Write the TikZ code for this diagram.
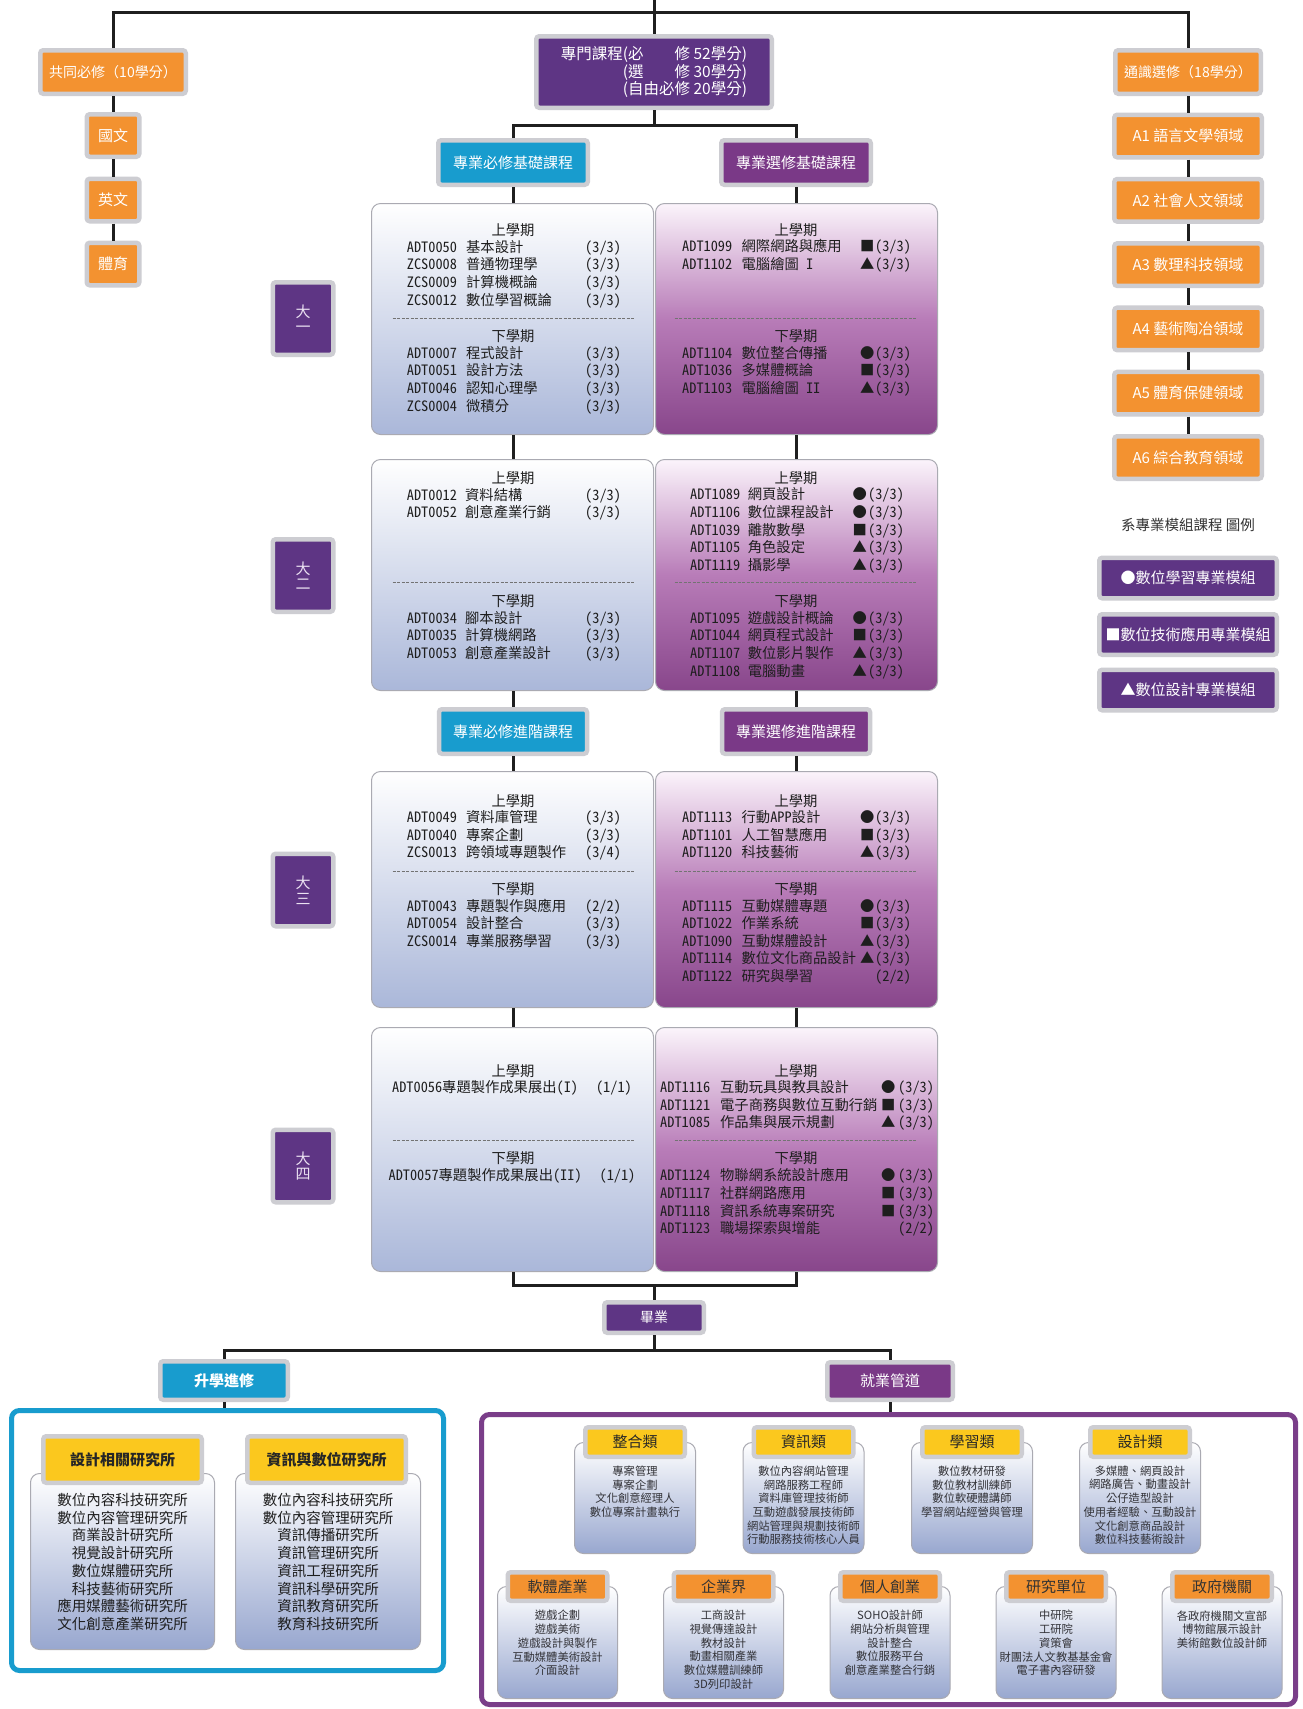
\documentclass[tikz,border=0pt]{standalone}
\usepackage{fontspec}
\setmainfont{Noto Sans CJK TC}
\newfontfamily\crsf[RawFeature=+hwid]{Noto Sans CJK TC}
\definecolor{myorange}{RGB}{243,146,48}
\definecolor{myyellow}{RGB}{251,200,30}
\definecolor{dpurple}{RGB}{94,53,132}
\definecolor{mpurple}{RGB}{122,57,135}
\definecolor{myblue}{RGB}{24,156,206}
\definecolor{fpurple}{RGB}{122,62,137}
\definecolor{framegray}{RGB}{205,205,210}
\definecolor{boxgray}{RGB}{170,170,178}
\definecolor{lbot}{RGB}{170,183,217}
\definecolor{rtop}{RGB}{251,244,251}
\definecolor{rmid}{RGB}{184,124,184}
\definecolor{rbot}{RGB}{136,70,139}
\definecolor{jbot}{RGB}{152,167,207}
\definecolor{crstext}{RGB}{30,30,30}
\definecolor{jobtext}{RGB}{50,50,55}
\definecolor{yeartext}{RGB}{235,225,242}
\newlength\crsCW \newlength\crsNW \newlength\crsSW
\newcommand\crsfont{\crsf\fontsize{14.3pt}{17.6pt}\selectfont}
\newcommand\crsrow[3]{\makebox[\crsCW][l]{#1}\makebox[\crsNW][l]{#2}#3}
\newcommand\symcr[2]{\makebox[\crsSW][l]{#1}#2}
\tikzset{
  conn/.style={line width=3pt, draw=black!88},
  sz/.style 2 args={minimum width=#1, minimum height=#2},
  hb/.style={draw=framegray, line width=4.5pt, rounded corners=3pt, inner sep=0pt, text=white},
  ob/.style={hb, fill=myorange},
  pb/.style={hb, fill=dpurple},
  mb/.style={hb, fill=mpurple},
  bb/.style={hb, fill=myblue},
  yb/.style={hb, fill=myyellow, text=black!85},
  jo/.style={hb, fill=myorange, text=black!80},
  ylb/.style={draw=boxgray, line width=1pt, rounded corners=9pt, inner sep=0pt, top color=white, bottom color=lbot},
  yrb/.style={draw=boxgray, line width=1pt, rounded corners=9pt, inner sep=0pt, top color=rtop, bottom color=rbot, middle color=rmid},
  jbody/.style={draw=boxgray, line width=1pt, rounded corners=9pt, inner sep=0pt, top color=white, bottom color=jbot},
  sem/.style={font=\crsfont, inner sep=0pt, text=crstext},
  crs/.style n args={3}{font=\crsfont, align=left, inner sep=0pt, anchor=west, text=crstext,
      execute at begin node={\setlength\crsCW{#1}\setlength\crsNW{#2}\setlength\crsSW{#3}}},
  dsh/.style={draw=black!55, line width=0.8pt, dash pattern=on 3pt off 1.5pt},
  jtxt/.style={font=\fontsize{11.3pt}{13.7pt}\selectfont, align=center, inner sep=0pt, text=jobtext},
  rtxt/.style={font=\fontsize{14.5pt}{17.7pt}\selectfont, align=center, inner sep=0pt, text=crstext},
  yl/.style={pb, sz={60.5pt}{72.5pt}, align=center, text=yeartext, font=\fontsize{15pt}{15.5pt}\selectfont},
  ah/.style={ob, sz={147.5pt}{42.5pt}, font=\fontsize{15pt}{17pt}\selectfont},
  lg/.style={pb, sz={177.5pt}{40.5pt}, font=\fontsize{15pt}{17pt}\selectfont},
}
\begin{document}
\begin{tikzpicture}[x=1pt,y=-1pt]
\useasboundingbox[fill=white] (0,0) rectangle (1303,1709);

% ---------- top headers ----------
\node[pb, sz={235.5pt}{71.5pt}, align=left, font=\fontsize{15.5pt}{17.5pt}\selectfont] (prog) at (654,72)
 {專門課程(\makebox[4em][s]{必\hfill 修} 52學分)\\\phantom{專門課程}(\makebox[4em][s]{選\hfill 修} 30學分)\\\phantom{專門課程}(自由必修 20學分)};
\node[ob, sz={145.5pt}{43.5pt}, font=\fontsize{14pt}{16pt}\selectfont] (gen) at (113,72) {共同必修（10學分）};
\node[ob, sz={52.5pt}{42.5pt}, font=\fontsize{15pt}{17pt}\selectfont] (guo) at (113,135.5) {國文};
\node[ob, sz={52.5pt}{42.5pt}, font=\fontsize{15pt}{17pt}\selectfont] (ying) at (113,200) {英文};
\node[ob, sz={52.5pt}{42.5pt}, font=\fontsize{15pt}{17pt}\selectfont] (ti) at (113,264) {體育};
\node[ob, sz={145.5pt}{43.5pt}, font=\fontsize{14pt}{16pt}\selectfont] (ge) at (1188,72) {通識選修（18學分）};
\node[ah] (a1) at (1188,136) {A1 語言文學領域};
\node[ah] (a2) at (1188,200.3) {A2 社會人文領域};
\node[ah] (a3) at (1188,264.6) {A3 數理科技領域};
\node[ah] (a4) at (1188,328.9) {A4 藝術陶冶領域};
\node[ah] (a5) at (1188,393.2) {A5 體育保健領域};
\node[ah] (a6) at (1188,457.5) {A6 綜合教育領域};

\node[font=\fontsize{14.5pt}{16pt}\selectfont, text=black!80, inner sep=0pt] (lgt) at (1188,525) {系專業模組課程 圖例};
\node[lg] (lg1) at (1188,578) {●數位學習專業模組};
\node[lg] (lg2) at (1188,634.5) {■數位技術應用專業模組};
\node[lg] (lg3) at (1188,690) {▲數位設計專業模組};

\node[bb, sz={149.5pt}{44.5pt}, font=\fontsize{15pt}{17pt}\selectfont] (reqb) at (513,162.5) {專業必修基礎課程};
\node[mb, sz={149.5pt}{44.5pt}, font=\fontsize{15pt}{17pt}\selectfont] (eleb) at (796,162.5) {專業選修基礎課程};
\node[bb, sz={148pt}{44.5pt}, font=\fontsize{15pt}{17pt}\selectfont] (reqa) at (513,731.5) {專業必修進階課程};
\node[mb, sz={148pt}{44.5pt}, font=\fontsize{15pt}{17pt}\selectfont] (elea) at (796,731.5) {專業選修進階課程};

% ---------- year labels ----------
\node[yl] (yr1) at (303,318.5) {大\\一};
\node[yl] (yr2) at (303,575.5) {大\\二};
\node[yl] (yr3) at (303,890) {大\\三};
\node[yl] (yr4) at (303,1166) {大\\四};

% ---------- year boxes ----------
\node[ylb, sz={282pt}{231pt}] (y1l) at (512.5,319) {};
\node[yrb, sz={282pt}{231pt}] (y1r) at (796.5,319) {};
\node[ylb, sz={282pt}{231pt}] (y2l) at (512.5,575) {};
\node[yrb, sz={282pt}{231pt}] (y2r) at (796.5,575) {};
\node[ylb, sz={282pt}{236pt}] (y3l) at (512.5,889.5) {};
\node[yrb, sz={282pt}{236pt}] (y3r) at (796.5,889.5) {};
\node[ylb, sz={282pt}{244pt}] (y4l) at (512.5,1149.5) {};
\node[yrb, sz={282pt}{244pt}] (y4r) at (796.5,1149.5) {};

% year 1
\node[sem] (y1lt1) at (513,230) {上學期};
\node[crs={59.3pt}{119pt}{0pt}] (y1lc1) at (406.7,274)
 {\crsrow{ADT0050}{基本設計}{(3/3)}\\\crsrow{ZCS0008}{普通物理學}{(3/3)}\\\crsrow{ZCS0009}{計算機概論}{(3/3)}\\\crsrow{ZCS0012}{數位學習概論}{(3/3)}};
\draw[dsh] (392.5,318) -- (634,318);
\node[sem] (y1lt2) at (513,336) {下學期};
\node[crs={59.3pt}{119pt}{0pt}] (y1lc2) at (406.7,380)
 {\crsrow{ADT0007}{程式設計}{(3/3)}\\\crsrow{ADT0051}{設計方法}{(3/3)}\\\crsrow{ADT0046}{認知心理學}{(3/3)}\\\crsrow{ZCS0004}{微積分}{(3/3)}};
\node[sem] (y1rt1) at (796,230) {上學期};
\node[crs={59.5pt}{118.5pt}{15pt}] (y1rc1) at (682,256)
 {\crsrow{ADT1099}{網際網路與應用}{\symcr{■}{(3/3)}}\\\crsrow{ADT1102}{電腦繪圖 I}{\symcr{▲}{(3/3)}}};
\draw[dsh] (674.6,318) -- (917,318);
\node[sem] (y1rt2) at (796,336) {下學期};
\node[crs={59.5pt}{118.5pt}{15pt}] (y1rc2) at (682,371)
 {\crsrow{ADT1104}{數位整合傳播}{\symcr{●}{(3/3)}}\\\crsrow{ADT1036}{多媒體概論}{\symcr{■}{(3/3)}}\\\crsrow{ADT1103}{電腦繪圖 II}{\symcr{▲}{(3/3)}}};

% year 2
\node[sem] (y2lt1) at (513,478) {上學期};
\node[crs={58.3pt}{120pt}{0pt}] (y2lc1) at (406.7,504.2)
 {\crsrow{ADT0012}{資料結構}{(3/3)}\\\crsrow{ADT0052}{創意產業行銷}{(3/3)}};
\draw[dsh] (392.5,582.7) -- (634,582.7);
\node[sem] (y2lt2) at (513,601) {下學期};
\node[crs={58.3pt}{120pt}{0pt}] (y2lc2) at (406.7,636)
 {\crsrow{ADT0034}{腳本設計}{(3/3)}\\\crsrow{ADT0035}{計算機網路}{(3/3)}\\\crsrow{ADT0053}{創意產業設計}{(3/3)}};
\node[sem] (y2rt1) at (796,478) {上學期};
\node[crs={57.7pt}{104.8pt}{15.5pt}] (y2rc1) at (690,530.4)
 {\crsrow{ADT1089}{網頁設計}{\symcr{●}{(3/3)}}\\\crsrow{ADT1106}{數位課程設計}{\symcr{●}{(3/3)}}\\\crsrow{ADT1039}{離散數學}{\symcr{■}{(3/3)}}\\\crsrow{ADT1105}{角色設定}{\symcr{▲}{(3/3)}}\\\crsrow{ADT1119}{攝影學}{\symcr{▲}{(3/3)}}};
\draw[dsh] (674.6,582.7) -- (917,582.7);
\node[sem] (y2rt2) at (796,601) {下學期};
\node[crs={57.7pt}{104.8pt}{15.5pt}] (y2rc2) at (690,645)
 {\crsrow{ADT1095}{遊戲設計概論}{\symcr{●}{(3/3)}}\\\crsrow{ADT1044}{網頁程式設計}{\symcr{■}{(3/3)}}\\\crsrow{ADT1107}{數位影片製作}{\symcr{▲}{(3/3)}}\\\crsrow{ADT1108}{電腦動畫}{\symcr{▲}{(3/3)}}};

% year 3
\node[sem] (y3lt1) at (513,800.7) {上學期};
\node[crs={59.3pt}{119pt}{0pt}] (y3lc1) at (406.7,835.7)
 {\crsrow{ADT0049}{資料庫管理}{(3/3)}\\\crsrow{ADT0040}{專案企劃}{(3/3)}\\\crsrow{ZCS0013}{跨領域專題製作}{(3/4)}};
\draw[dsh] (392.5,871.7) -- (634,871.7);
\node[sem] (y3lt2) at (513,889) {下學期};
\node[crs={59.3pt}{119pt}{0pt}] (y3lc2) at (406.7,924)
 {\crsrow{ADT0043}{專題製作與應用}{(2/2)}\\\crsrow{ADT0054}{設計整合}{(3/3)}\\\crsrow{ZCS0014}{專業服務學習}{(3/3)}};
\node[sem] (y3rt1) at (796,800.7) {上學期};
\node[crs={59.5pt}{118.5pt}{15pt}] (y3rc1) at (682,835.7)
 {\crsrow{ADT1113}{行動APP設計}{\symcr{●}{(3/3)}}\\\crsrow{ADT1101}{人工智慧應用}{\symcr{■}{(3/3)}}\\\crsrow{ADT1120}{科技藝術}{\symcr{▲}{(3/3)}}};
\draw[dsh] (674.6,871.7) -- (917,871.7);
\node[sem] (y3rt2) at (796,889) {下學期};
\node[crs={59.5pt}{118.5pt}{15pt}] (y3rc2) at (682,941.7)
 {\crsrow{ADT1115}{互動媒體專題}{\symcr{●}{(3/3)}}\\\crsrow{ADT1022}{作業系統}{\symcr{■}{(3/3)}}\\\crsrow{ADT1090}{互動媒體設計}{\symcr{▲}{(3/3)}}\\\crsrow{ADT1114}{數位文化商品設計}{\symcr{▲}{(3/3)}}\\\crsrow{ADT1122}{研究與學習}{\symcr{}{(2/2)}}};

% year 4
\node[sem] (y4lt1) at (513,1070.7) {上學期};
\node[sem] (y4lc1) at (512,1088) {ADT0056專題製作成果展出(I)\hspace{18pt}(1/1)};
\draw[dsh] (392.5,1140) -- (634,1140);
\node[sem] (y4lt2) at (513,1158) {下學期};
\node[sem] (y4lc2) at (512,1176) {ADT0057專題製作成果展出(II)\hspace{18pt}(1/1)};
\node[sem] (y4rt1) at (796,1070.7) {上學期};
\node[crs={60pt}{161pt}{17pt}] (y4rc1) at (660,1105.5)
 {\crsrow{ADT1116}{互動玩具與教具設計}{\symcr{●}{(3/3)}}\\\crsrow{ADT1121}{電子商務與數位互動行銷}{\symcr{■}{(3/3)}}\\\crsrow{ADT1085}{作品集與展示規劃}{\symcr{▲}{(3/3)}}};
\draw[dsh] (674.6,1140) -- (917,1140);
\node[sem] (y4rt2) at (796,1158) {下學期};
\node[crs={60pt}{161pt}{17pt}] (y4rc2) at (660,1202.5)
 {\crsrow{ADT1124}{物聯網系統設計應用}{\symcr{●}{(3/3)}}\\\crsrow{ADT1117}{社群網路應用}{\symcr{■}{(3/3)}}\\\crsrow{ADT1118}{資訊系統專案研究}{\symcr{■}{(3/3)}}\\\crsrow{ADT1123}{職場探索與增能}{\symcr{}{(2/2)}}};

% ---------- graduation ----------
\node[pb, sz={99.5pt}{30.5pt}, font=\fontsize{14pt}{16pt}\selectfont] (grad) at (654,1317.5) {畢業};
\node[bb, sz={127.5pt}{38.5pt}, font=\bfseries\fontsize{15pt}{17pt}\selectfont] (study) at (224,1380.5) {升學進修};
\node[mb, sz={125.5pt}{37.5pt}, font=\fontsize{15pt}{17pt}\selectfont] (job) at (890,1381) {就業管道};

% frames
\node[draw=myblue, line width=5pt, rounded corners=8pt, inner sep=0pt, sz={432pt}{260pt}] (sframe) at (227.5,1540.5) {};
\node[draw=fpurple, line width=5pt, rounded corners=8pt, inner sep=0pt, sz={814pt}{290pt}] (jframe) at (888.5,1559.5) {};

% research institutes
\node[jbody, sz={184pt}{176pt}] (rb1) at (122.5,1561.5) {};
\node[jbody, sz={185pt}{176pt}] (rb2) at (328,1561.5) {};
\node[yb, sz={158.5pt}{46.5pt}, font=\bfseries\fontsize{15pt}{17pt}\selectfont] (rh1) at (122.5,1459.5) {設計相關研究所};
\node[yb, sz={158.5pt}{46.5pt}, font=\bfseries\fontsize{15pt}{17pt}\selectfont] (rh2) at (326.5,1459.5) {資訊與數位研究所};
\node[rtxt] (rt1) at (122.5,1562) {數位內容科技研究所\\數位內容管理研究所\\商業設計研究所\\視覺設計研究所\\數位媒體研究所\\科技藝術研究所\\應用媒體藝術研究所\\文化創意產業研究所};
\node[rtxt] (rt2) at (328,1562) {數位內容科技研究所\\數位內容管理研究所\\資訊傳播研究所\\資訊管理研究所\\資訊工程研究所\\資訊科學研究所\\資訊教育研究所\\教育科技研究所};

% job categories, top row
\node[jbody, sz={121pt}{111pt}] (jb1) at (635,1498) {};
\node[jbody, sz={121pt}{111pt}] (jb2) at (803.5,1498) {};
\node[jbody, sz={121pt}{111pt}] (jb3) at (972,1498) {};
\node[jbody, sz={121pt}{111pt}] (jb4) at (1140,1498) {};
\node[yb, sz={99.5pt}{29.5pt}, font=\fontsize{15pt}{17pt}\selectfont] (jh1) at (635,1442) {整合類};
\node[yb, sz={99.5pt}{29.5pt}, font=\fontsize{15pt}{17pt}\selectfont] (jh2) at (803.5,1442) {資訊類};
\node[yb, sz={99.5pt}{29.5pt}, font=\fontsize{15pt}{17pt}\selectfont] (jh3) at (972,1442) {學習類};
\node[yb, sz={99.5pt}{29.5pt}, font=\fontsize{15pt}{17pt}\selectfont] (jh4) at (1140,1442) {設計類};
\node[jtxt] (jt1) at (635,1491.6) {專案管理\\專案企劃\\文化創意經理人\\數位專案計畫執行};
\node[jtxt] (jt2) at (803.5,1505.3) {數位內容網站管理\\網路服務工程師\\資料庫管理技術師\\互動遊戲發展技術師\\網站管理與規劃技術師\\行動服務技術核心人員};
\node[jtxt] (jt3) at (972,1491.6) {數位教材研發\\數位教材訓練師\\數位軟硬體講師\\學習網站經營與管理};
\node[jtxt] (jt4) at (1140,1505.3) {多媒體、網頁設計\\網路廣告、動畫設計\\公仔造型設計\\使用者經驗、互動設計\\文化創意商品設計\\數位科技藝術設計};

% job categories, bottom row
\node[jbody, sz={120pt}{112pt}] (kb1) at (557.5,1642.5) {};
\node[jbody, sz={120pt}{112pt}] (kb2) at (723.5,1642.5) {};
\node[jbody, sz={120pt}{112pt}] (kb3) at (890,1642.5) {};
\node[jbody, sz={120pt}{112pt}] (kb4) at (1056,1642.5) {};
\node[jbody, sz={120pt}{112pt}] (kb5) at (1222,1642.5) {};
\node[jo, sz={99.5pt}{28.5pt}, font=\fontsize{15pt}{17pt}\selectfont] (kh1) at (557.5,1586.5) {軟體產業};
\node[jo, sz={99.5pt}{28.5pt}, font=\fontsize{15pt}{17pt}\selectfont] (kh2) at (723.5,1586.5) {企業界};
\node[jo, sz={99.5pt}{28.5pt}, font=\fontsize{15pt}{17pt}\selectfont] (kh3) at (890,1586.5) {個人創業};
\node[jo, sz={99.5pt}{28.5pt}, font=\fontsize{15pt}{17pt}\selectfont] (kh4) at (1056,1586.5) {研究單位};
\node[jo, sz={99.5pt}{28.5pt}, font=\fontsize{15pt}{17pt}\selectfont] (kh5) at (1222,1586.5) {政府機關};
\node[jtxt] (kt1) at (557.5,1643) {遊戲企劃\\遊戲美術\\遊戲設計與製作\\互動媒體美術設計\\介面設計};
\node[jtxt] (kt2) at (723.5,1649.7) {工商設計\\視覺傳達設計\\教材設計\\動畫相關產業\\數位媒體訓練師\\3D列印設計};
\node[jtxt] (kt3) at (890,1643) {SOHO設計師\\網站分析與管理\\設計整合\\數位服務平台\\創意產業整合行銷};
\node[jtxt] (kt4) at (1056,1643) {中研院\\工研院\\資策會\\財團法人文教基基金會\\電子書內容研發};
\node[jtxt] (kt5) at (1222,1629.5) {各政府機關文宣部\\博物館展示設計\\美術館數位設計師};

% ---------- connectors ----------
\coordinate (top0) at (654,0);
\coordinate (tj) at (654,12);
\coordinate (pj) at (654,125);
\coordinate (gj) at (654,1285);
\coordinate (gj2) at (654,1350);
\draw[conn] (top0) -- (prog.north);
\draw[conn] (gen.north) |- (tj) -| (ge.north);
\draw[conn] (gen.south) -- (guo.north);
\draw[conn] (guo.south) -- (ying.north);
\draw[conn] (ying.south) -- (ti.north);
\draw[conn] (ge.south) -- (a1.north);
\draw[conn] (a1.south) -- (a2.north);
\draw[conn] (a2.south) -- (a3.north);
\draw[conn] (a3.south) -- (a4.north);
\draw[conn] (a4.south) -- (a5.north);
\draw[conn] (a5.south) -- (a6.north);
\draw[conn] (prog.south) -- (pj);
\draw[conn] (reqb.north) |- (pj) -| (eleb.north);
\draw[conn] (reqb.south) -- (reqb.south |- y1l.north);
\draw[conn] (eleb.south) -- (eleb.south |- y1r.north);
\draw[conn] (reqb.south |- y1l.south) -- (reqb.south |- y2l.north);
\draw[conn] (eleb.south |- y1r.south) -- (eleb.south |- y2r.north);
\draw[conn] (reqa.north |- y2l.south) -- (reqa.north);
\draw[conn] (elea.north |- y2r.south) -- (elea.north);
\draw[conn] (reqa.south) -- (reqa.south |- y3l.north);
\draw[conn] (elea.south) -- (elea.south |- y3r.north);
\draw[conn] (reqa.south |- y3l.south) -- (reqa.south |- y4l.north);
\draw[conn] (elea.south |- y3r.south) -- (elea.south |- y4r.north);
\draw[conn] (reqa.south |- y4l.south) |- (gj) -| (elea.south |- y4r.south);
\draw[conn] (gj) -- (grad.north);
\draw[conn] (grad.south) -- (gj2);
\draw[conn] (study.north) |- (gj2) -| (job.north);
\draw[conn] (study.south) -- (study.south |- sframe.north);
\draw[conn] (job.south) -- (job.south |- jframe.north);
\end{tikzpicture}
\end{document}
